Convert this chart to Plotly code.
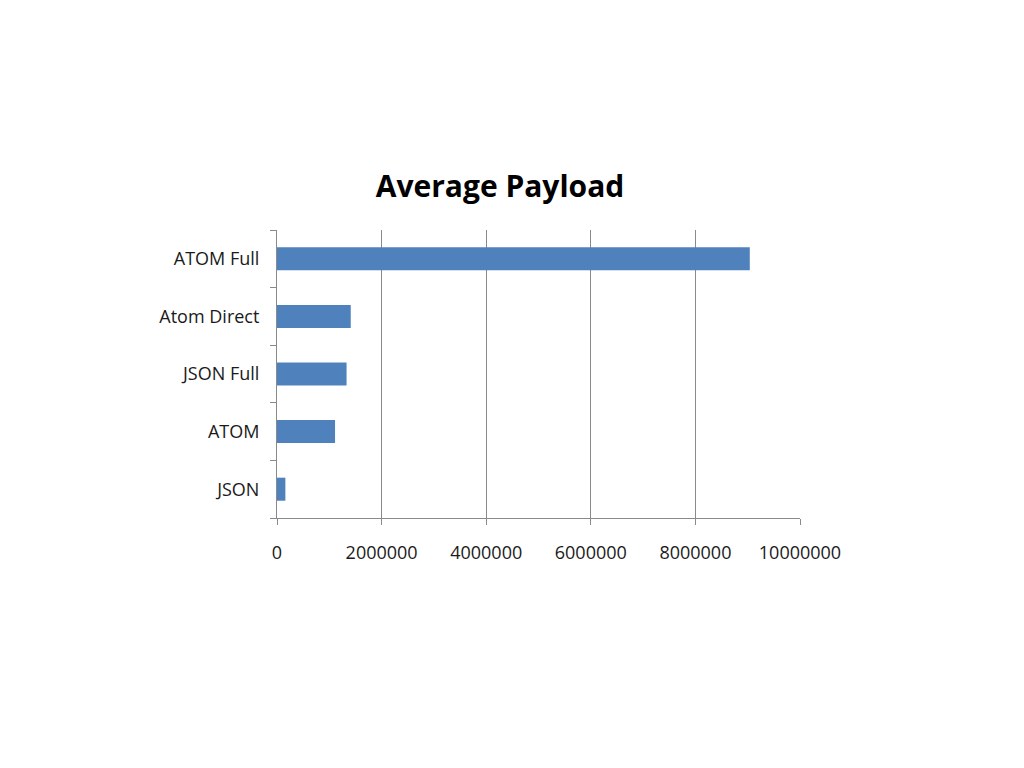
import plotly.graph_objects as go

categories = ["JSON", "ATOM", "JSON Full", "Atom Direct", "ATOM Full"]
values = [160000, 1110000, 1330000, 1410000, 9040000]
x_ticks = [0, 2000000, 4000000, 6000000, 8000000, 10000000]
x_tick_labels = ["0", "2000000", "4000000", "6000000", "8000000", "10000000"]

fig = go.Figure(go.Bar(
    x=values, y=categories, orientation="h",
    marker=dict(color="#4F81BD", line=dict(width=0)),
    width=0.4,
))

font = "Open Sans"
fig.update_layout(
    width=1024, height=768,
    paper_bgcolor="white", plot_bgcolor="white",
    margin=dict(l=269, r=232, t=222, b=258),
    title=dict(text="<b>Average Payload</b>", x=(500 - 8) / 1024, xanchor="center",
               y=1 - (186 - 8) / 768, yanchor="middle",
               font=dict(family=font, size=30, color="#000000")),
    showlegend=False,
    bargap=0.6,
)
fig.update_xaxes(
    range=[0, 10000000], tickvals=x_ticks, ticktext=x_tick_labels,
    showgrid=True, gridcolor="#8a8a8a", gridwidth=1,
    showline=True, linecolor="#8a8a8a", linewidth=1,
    ticks="outside", ticklen=6, tickcolor="#8a8a8a",
    ticklabelstandoff=12,
    tickfont=dict(family=font, size=18, color="#1a1a1a"),
    zeroline=False, fixedrange=True,
)
fig.update_yaxes(
    categoryorder="array", categoryarray=categories,
    showgrid=False, showline=True, linecolor="#8a8a8a", linewidth=1,
    ticks="outside", ticklen=6, tickcolor="#8a8a8a", tickson="boundaries",
    ticklabelstandoff=13,
    tickfont=dict(family=font, size=18, color="#1a1a1a"),
    fixedrange=True,
)
fig.write_html("out.html")
